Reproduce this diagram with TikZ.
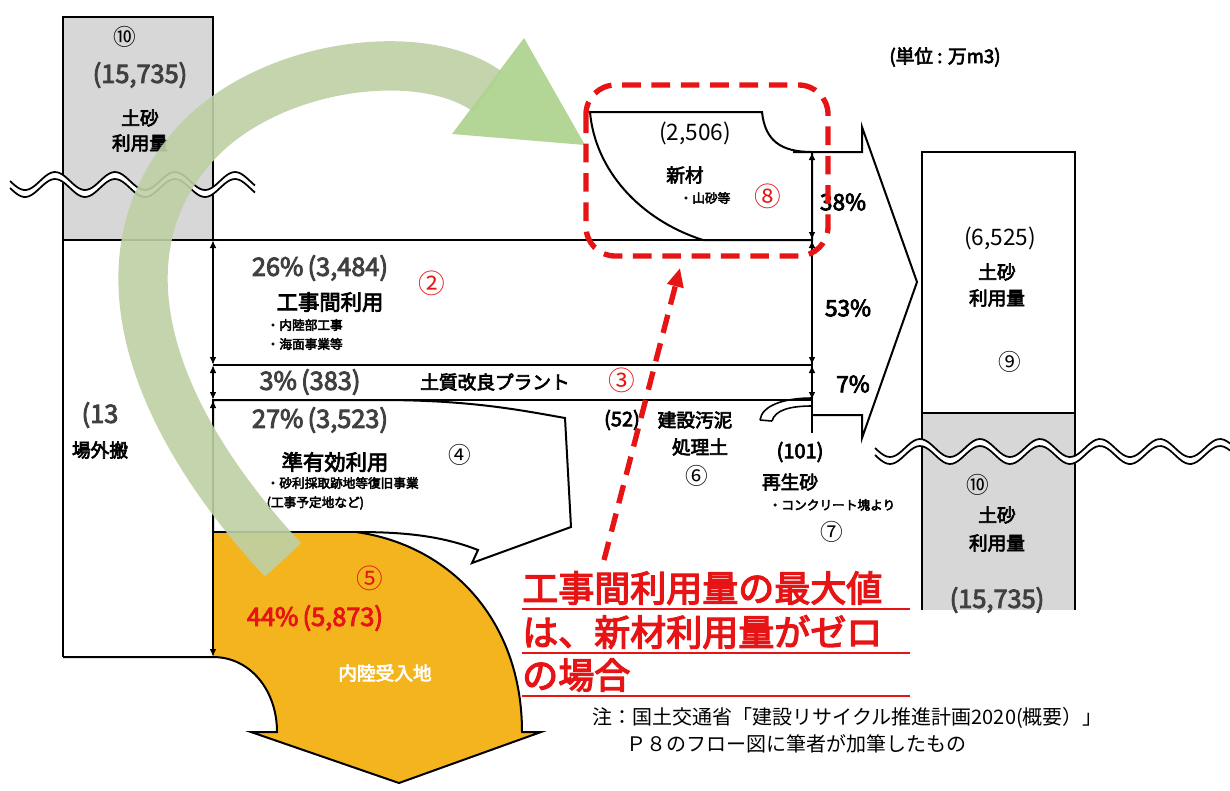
\documentclass[tikz,border=0pt]{standalone}
\usepackage{fontspec}
\newfontfamily\jp{Noto Sans CJK JP}
\newfontfamily\jpb{Noto Sans CJK JP}[FakeBold=3.5]
\usetikzlibrary{arrows.meta}
\definecolor{ygold}{RGB}{243,180,30}
\definecolor{lgrey}{RGB}{215,215,215}
\definecolor{gband}{RGB}{190,208,165}
\definecolor{ghead}{RGB}{175,212,145}
\definecolor{rred}{RGB}{230,20,20}
\tikzset{
  box/.style={draw=black,line width=2pt},
  thinl/.style={draw=black,line width=1.5pt},
  dim/.style={line width=1.2pt,{Latex[length=6pt,width=5pt]}-{Latex[length=6pt,width=5pt]}},
  big/.style={font=\jpb\fontsize{19}{21}\selectfont,text=black!75},
  mid/.style={font=\jpb\fontsize{14}{16}\selectfont},
  sml/.style={font=\jpb\fontsize{9.5}{11}\selectfont},
  circ/.style={font=\jp\fontsize{17}{19}\selectfont},
  rcirc/.style={font=\jp\fontsize{20}{22}\selectfont,text=rred},
  redt/.style={font=\jpb\fontsize{27}{30}\selectfont,text=rred,anchor=west,inner sep=0pt},
}
\begin{document}
\begin{tikzpicture}[x=0.75pt,y=-0.75pt]
\useasboundingbox (0,0) rectangle (1230,790);
% left column
\fill[lgrey] (63,17) rectangle (213,240);
\draw[box] (63,657) -- (63,17) -- (213,17) -- (213,240);
\draw[box] (63,240) -- (213,240);
% bands
\draw[thinl] (213,240) -- (812,240);
\draw[thinl] (213,365) -- (812,365);
\draw[thinl] (213,400) -- (812,400);
% 27% arrow
\draw[thinl,fill=white] (213,400) -- (380,400) .. controls (470,400) and (520,410) .. (565,418) -- (571,527) -- (472,563) -- (478,550) .. controls (440,535) and (400,532) .. (356,532) -- (213,532) -- cycle;
% yellow arrow
\fill[ygold] (213,532) -- (356,532) .. controls (450,545) and (522,620) .. (522,732) -- (541,732) -- (399,783) -- (251,732) -- (277,732) .. controls (277,690) and (250,657) .. (213,657) -- cycle;
\draw[thinl] (356,532) .. controls (450,545) and (522,620) .. (522,732) -- (541,732) -- (399,783) -- (251,732) -- (277,732) .. controls (277,690) and (250,657) .. (213,657) -- (63,657);
\draw[thinl] (213,532) -- (356,532);
% new material
\draw[thinl,fill=white] (590,112) -- (762,112) .. controls (765,140) and (780,152) .. (812,152) -- (812,240) -- (703,240) .. controls (640,220) and (595,170) .. (590,112) -- cycle;
% big arrow
\draw[thinl] (793,152) -- (862,152) -- (862,127) -- (917,282) -- (862,438) -- (862,415) -- (812,415);
\draw[thinl] (812,152) -- (812,433);
% pipe
\draw[line width=1.2pt] (760,420) .. controls (762,405) and (785,398) .. (812,398);
\draw[line width=1.2pt] (772,421) .. controls (775,410) and (790,406) .. (812,406);
\draw[line width=1.2pt] (760,420) -- (772,421);
% dims
\draw[dim] (213,240) -- (213,365);
\draw[dim] (213,365) -- (213,400);
\draw[line width=1.2pt,-{Latex[length=6pt,width=5pt]}] (213,420) -- (213,400);
\draw[line width=1.2pt,-{Latex[length=6pt,width=5pt]}] (213,532) -- (213,657);
\draw[dim] (812,152) -- (812,240);
\draw[dim] (812,240) -- (812,365);
\draw[dim] (812,365) -- (812,400);
% right boxes
\fill[lgrey] (922,413) rectangle (1075,610);
\draw[box] (922,152) rectangle (1075,413);
\draw[box] (922,610) -- (922,413) -- (1075,413) -- (1075,610);
% wavy lines
\draw[line width=4.5pt,white] plot[domain=10:255,samples=90] (\x,{185+9*sin((\x-10)*6)});
\draw[line width=1.3pt] plot[domain=10:255,samples=90] (\x,{181+9*sin((\x-10)*6)});
\draw[line width=1.3pt] plot[domain=10:255,samples=90] (\x,{188+9*sin((\x-10)*6)});
\draw[line width=5pt,white] plot[domain=875:1230,samples=120] (\x,{452+9*sin((\x-875)*6)});
\draw[line width=1.3pt] plot[domain=875:1230,samples=120] (\x,{448+9*sin((\x-875)*6)});
\draw[line width=1.3pt] plot[domain=875:1230,samples=120] (\x,{455+9*sin((\x-875)*6)});
% left texts
\node[circ] (c10a) at (125,37) {⑩};
\node[big] (v15a) at (140,75) {(15,735)};
\node[mid] (ts1) at (140,118) {土砂};
\node[mid] (ts2) at (140,143) {利用量};
\node[big] (v13) at (100,415) {(13};
\node[mid] (jg) at (100,450) {場外搬};
\node[big] (p26) at (320,268) {26\%\,(3,484)};
\node[rcirc] (c2) at (432,283) {②};
\node[font=\jpb\fontsize{16}{18}\selectfont] (kj) at (330,302) {工事間利用};
\node[sml,anchor=west] (kj1) at (262,325) {・内陸部工事};
\node[sml,anchor=west] (kj2) at (262,344) {・海面事業等};
\node[big] (p3) at (310,382) {3\%\,(383)};
\node[mid] (pl) at (495,382) {土質改良プラント};
\node[rcirc] (c3) at (622,380) {③};
\node[big] (p27) at (320,420) {27\%\,(3,523)};
\node[circ] (c4) at (460,455) {④};
\node[font=\jpb\fontsize{16}{18}\selectfont] (jy) at (335,462) {準有効利用};
\node[sml,anchor=west] (jy1) at (262,483) {・砂利採取跡地等復旧事業};
\node[sml,anchor=west] (jy2) at (262,503) {(工事予定地など)};
\node[rcirc] (c5) at (370,578) {⑤};
\node[big,text=rred] (p44) at (315,618) {44\%\,(5,873)};
\node[mid,text=white] (nr) at (385,673) {内陸受入地};
% middle
\node[font=\jp\fontsize{17}{19}\selectfont] (v25) at (695,133) {(2,506)};
\node[mid] (sz) at (685,175) {新材};
\node[sml] (sz1) at (705,198) {・山砂等};
\node[rcirc] (c8) at (768,196) {⑧};
\node[font=\jpb\fontsize{17}{19}\selectfont] (p38) at (843,202) {38\%};
\node[font=\jpb\fontsize{17}{19}\selectfont] (p53) at (848,308) {53\%};
\node[font=\jpb\fontsize{17}{19}\selectfont] (p7) at (853,384) {7\%};
\node[font=\jpb\fontsize{15}{17}\selectfont] (v52) at (622,420) {(52)};
\node[mid] (ks1) at (695,420) {建設汚泥};
\node[mid] (ks2) at (700,447) {処理土};
\node[circ] (c6) at (697,476) {⑥};
\node[font=\jpb\fontsize{15}{17}\selectfont] (v101) at (800,452) {(101)};
\node[mid] (ss) at (790,482) {再生砂};
\node[sml] (ss1) at (832,505) {・コンクリート塊より};
\node[circ] (c7) at (832,532) {⑦};
% right texts
\node[font=\jp\fontsize{17}{19}\selectfont] (v65) at (1000,238) {(6,525)};
\node[mid] (rt1) at (997,272) {土砂};
\node[mid] (rt2) at (997,298) {利用量};
\node[circ] (c9) at (1010,362) {⑨};
\node[circ] (c10b) at (978,485) {⑩};
\node[mid] (rt3) at (997,515) {土砂};
\node[mid] (rt4) at (997,543) {利用量};
\node[big] (v15b) at (997,600) {(15,735)};
\node[font=\jpb\fontsize{14}{16}\selectfont] (unit) at (945,57) {(単位 : 万m3)};
% green arrow
\draw[gband,line width=37pt,opacity=0.9] (283,560) .. controls (135,400) and (105,250) .. (190,150) .. controls (260,65) and (420,42) .. (488,92);
\fill[ghead,opacity=0.95] (524,38) -- (585,145) -- (452,134) -- cycle;
% red dashed box and arrow
\draw[rred,line width=4pt,dash pattern=on 14pt off 8pt,rounded corners=22pt] (586,85) rectangle (828,256);
\draw[rred,line width=4pt,dash pattern=on 14pt off 8pt,-{Triangle[length=14pt,width=12pt]}] (604,560) -- (680,268);
% red text
\node[redt] (r1) at (522,588) {工事間利用量の最大値};
\node[redt] (r2) at (522,632) {は、新材利用量がゼロ};
\node[redt] (r3) at (522,675) {の場合};
\draw[rred,line width=2pt] (522,609) -- (910,609);
\draw[rred,line width=2pt] (522,653) -- (910,653);
\draw[rred,line width=2pt] (522,696) -- (910,696);
% note
\node[font=\jp\fontsize{15}{17}\selectfont,anchor=west] (n1) at (588,718) {注：国土交通省「建設リサイクル推進計画2020(概要）」};
\node[font=\jp\fontsize{15}{17}\selectfont,anchor=west] (n2) at (622,744) {Ｐ８のフロー図に筆者が加筆したもの};
\end{tikzpicture}
\end{document}
